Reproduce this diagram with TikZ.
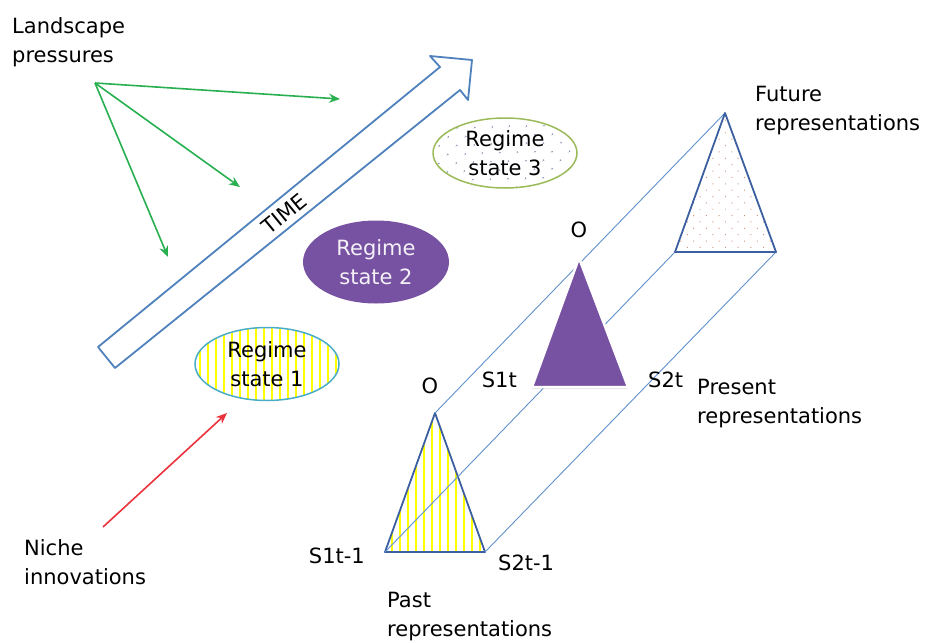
\documentclass[tikz,border=0pt]{standalone}
\usepackage{fontspec}
\setmainfont{DejaVu Sans}
\usepackage{tikz}
\usetikzlibrary{shapes.geometric,arrows.meta,patterns.meta,shadows}
\definecolor{timeblue}{RGB}{79,129,189}
\definecolor{linkblue}{RGB}{95,145,205}
\definecolor{triblue}{RGB}{60,95,160}
\definecolor{pushgreen}{RGB}{40,175,80}
\definecolor{nichered}{RGB}{235,50,60}
\definecolor{regpurple}{RGB}{120,82,162}
\definecolor{tealrim}{RGB}{75,172,198}
\definecolor{olivrim}{RGB}{155,187,89}
\definecolor{dotgray}{RGB}{95,110,150}
\definecolor{dotbrown}{RGB}{205,150,120}
\tikzstyle{txt} = [inner sep=0pt, align=left, font=\fontsize{21}{29}\selectfont]
\tikzstyle{regime} = [ellipse, inner sep=0pt, align=center, line width=1.5pt, font=\fontsize{21}{29}\selectfont]
\tikzstyle{push} = [draw=pushgreen, line width=1.6pt, -{Stealth[length=11pt,width=9pt]}]
\tikzstyle{niche} = [draw=nichered, line width=1.6pt, -{Stealth[length=11pt,width=9pt]}]
\tikzstyle{link} = [draw=linkblue, line width=0.9pt]
\tikzstyle{repr} = [draw=triblue, line width=1.8pt, line join=round]
\tikzstyle{stripes} = [pattern={Lines[angle=90,distance=8pt,line width=2.2pt]}, pattern color=yellow]

\begin{document}
\begin{tikzpicture}[x=1pt, y=-1pt]
\useasboundingbox (0,0) rectangle (925,642);

% regime states
\node (reg1) [regime, stripes, draw=tealrim, minimum width=144pt, minimum height=73pt] at (267,364) {Regime\\state 1};
\node (reg2) [regime, fill=regpurple, text=white!92!regpurple, minimum width=146pt, minimum height=83pt] at (376,262) {Regime\\state 2};
\node (reg3) [regime, draw=olivrim, pattern={Dots[angle=45,distance=13pt,radius=0.9pt]}, pattern color=dotgray, minimum width=144pt, minimum height=70pt] at (505,153) {Regime\\state 3};

% time arrow
\coordinate (tA) at (98,347);
\coordinate (tB) at (440,67);
\coordinate (tC) at (430,56);
\coordinate (tD) at (472,60);
\coordinate (tE) at (468,100);
\coordinate (tF) at (460,90);
\coordinate (tG) at (115,368);
\draw [timeblue, fill=white, line width=1.8pt, line join=round] (tA) -- (tB) -- (tC) -- (tD) -- (tE) -- (tF) -- (tG) -- cycle;
\node (time) [txt, rotate=39.3] at (284,214) {TIME};

% landscape and niche
\node (land) [txt, anchor=base west] at (12,63) {Landscape\\pressures};
\node (niche) [txt, anchor=base west] at (24,584) {Niche\\innovations};
\coordinate (lsp) at (95,83);
\coordinate (lsp1) at (340,99);
\coordinate (lsp2) at (240,187);
\coordinate (lsp3) at (168,257);
\draw [push] (lsp) -- (lsp1);
\draw [push] (lsp) -- (lsp2);
\draw [push] (lsp) -- (lsp3);
\coordinate (nch) at (103,527);
\coordinate (nch1) at (227,413);
\draw [niche] (nch) -- (nch1);

% representations
\coordinate (pastO) at (435,413);
\coordinate (pastS1) at (385,552);
\coordinate (pastS2) at (485,552);
\coordinate (presO) at (579,258);
\coordinate (presS1) at (532,387);
\coordinate (presS2) at (628,387);
\coordinate (futO) at (725,113);
\coordinate (futS1) at (675,252);
\coordinate (futS2) at (776,252);

\draw [repr, stripes] (pastO) -- (pastS1) -- (pastS2) -- cycle;
\draw [link] (pastO) -- (futO);
\draw [link] (pastS1) -- (futS1);
\draw [link] (pastS2) -- (futS2);
\filldraw [fill=regpurple, draw=white, line width=2.5pt, line join=round, drop shadow={shadow xshift=0pt, shadow yshift=-2pt, opacity=0.25}] (presO) -- (presS1) -- (presS2) -- cycle;
\draw [repr, preaction={fill=white}, pattern={Dots[angle=45,distance=9pt,radius=0.7pt]}, pattern color=dotbrown] (futO) -- (futS1) -- (futS2) -- cycle;

% labels
\node (pastOl) [txt, anchor=base] at (430,393) {O};
\node (presOl) [txt, anchor=base] at (579,237) {O};
\node (presS1l) [txt, anchor=base east] at (517,387) {S1t};
\node (presS2l) [txt, anchor=base west] at (648,387) {S2t};
\node (pastS1l) [txt, anchor=base east] at (365,563) {S1t-1};
\node (pastS2l) [txt, anchor=base west] at (498,570) {S2t-1};
\node (past) [txt, anchor=base west] at (387,636) {Past\\representations};
\node (present) [txt, anchor=base west] at (697,423) {Present\\representations};
\node (future) [txt, anchor=base west] at (755,130) {Future\\representations};
\end{tikzpicture}
\end{document}
